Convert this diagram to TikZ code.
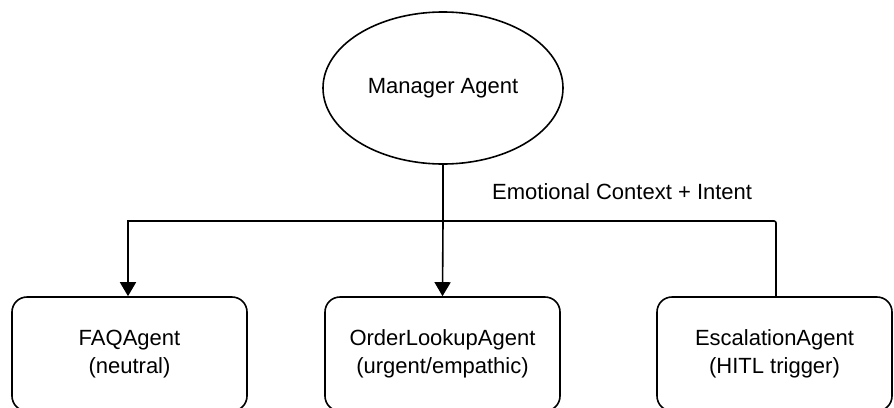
\documentclass[tikz,border=0pt]{standalone}
\usepackage{fontspec}
\setmainfont{Liberation Sans}
\usetikzlibrary{arrows.meta,shapes.geometric}
\begin{document}
\begin{tikzpicture}[x=1pt,y=-1pt,
  every node/.style={font=\fontsize{22}{28}\selectfont, text=black},
  link/.style={line width=1.6pt, draw=black},
  arrowlink/.style={link, -{Triangle[width=16pt,length=14pt]}},
  agentbox/.style={draw=black, line width=1.6pt, rounded corners=15pt,
    minimum width=235pt, minimum height=114pt, align=center, inner sep=0pt},
  manager/.style={ellipse, draw=black, line width=1.6pt,
    minimum width=240pt, minimum height=152pt, inner sep=0pt}]
  \useasboundingbox (0,0) rectangle (894,407);
  \clip (0,0) rectangle (894,407);

  % manager at the top
  \node[manager] (mgr) at (443,88) {Manager Agent};

  % the three worker agents
  \node[agentbox] (faq) at (129.5,354) {FAQAgent\\(neutral)};
  \node[agentbox] (order) at (442.5,354) {OrderLookupAgent\\(urgent/empathic)};
  \node[agentbox] (esc) at (774.5,354) {EscalationAgent\\(HITL trigger)};

  % routing bus
  \coordinate (hub) at (443,221);
  \draw[link] (mgr.south) -- (hub);
  \draw[arrowlink] (hub) -- (order.north);
  \draw[arrowlink] (hub) -| (faq.north -| 128,0);
  \draw[link, rounded corners=2pt] (hub) -| (esc.north -| 776,0);

  \node[anchor=base west, inner sep=0pt] (lbl) at (492,199.5) {Emotional Context + Intent};
\end{tikzpicture}
\end{document}
